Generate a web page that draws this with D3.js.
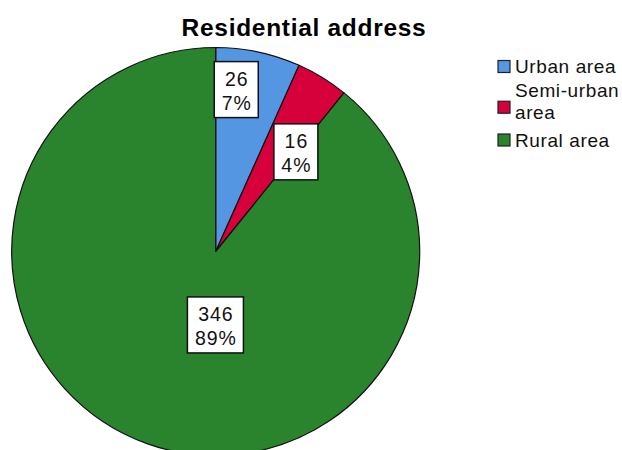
<!DOCTYPE html>
<html>
<head>
<meta charset="utf-8">
<script src="https://cdn.jsdelivr.net/npm/d3@7"></script>
<style>
  html, body { margin: 0; padding: 0; background: #fff; }
  svg { display: block; }
</style>
</head>
<body>
<svg id="chart" width="622" height="450"></svg>
<script>
const categories = ["Urban area", "Semi-urban area", "Rural area"];
const legendLines = [["Urban area"], ["Semi-urban", "area"], ["Rural area"]];
const counts = [26, 16, 346];
const percentLabels = ["7%", "4%", "89%"];
const colors = ["#5596E3", "#D6003A", "#2A832D"];
const title = "Residential address";

// layout (not data)
const W = 622, H = 450;
const cx = 215.7, cy = 251.5, R = 204;
const labelLayout = [
  { angleFrac: 0.30, radiusFrac: 0.80 },
  { angleFrac: 0.99, radiusFrac: 0.627 },
  { angleFrac: 0.44, radiusFrac: 0.36 }
];

const svg = d3.select("#chart");
const font = "'Liberation Sans', Arial, sans-serif";

svg.append("text")
  .attr("x", 304).attr("y", 36)
  .attr("text-anchor", "middle")
  .attr("font-family", font)
  .attr("font-weight", "bold")
  .attr("font-size", 24.5)
  .attr("letter-spacing", 0.7)
  .attr("fill", "#000")
  .text(title);

const pie = d3.pie().sort(null).value(d => d)(counts);
const arc = d3.arc().innerRadius(0).outerRadius(R);

const g = svg.append("g").attr("transform", `translate(${cx},${cy})`);
g.selectAll("path.slice")
  .data(pie)
  .join("path")
  .attr("class", "slice")
  .attr("d", arc)
  .attr("fill", (d, i) => colors[i])
  .attr("stroke", "#111")
  .attr("stroke-width", 1.2)
  .attr("stroke-linejoin", "round");

// labels
const lblFont = 19.5, lineH = 24, padX = 7.5, boxH = 56;
pie.forEach((d, i) => {
  const L = labelLayout[i];
  const a = d.startAngle + L.angleFrac * (d.endAngle - d.startAngle);
  const [px, py] = d3.pointRadial(a, R * L.radiusFrac);
  const lg = g.append("g").attr("transform", `translate(${px},${py})`);
  const rect = lg.append("rect");
  const t = lg.append("text")
    .attr("text-anchor", "middle")
    .attr("font-family", font)
    .attr("font-size", lblFont)
    .attr("letter-spacing", 1)
    .attr("fill", "#111");
  t.append("tspan").attr("x", 0.5).attr("y", -4).text(counts[i]);
  t.append("tspan").attr("x", 0.5).attr("y", -4 + lineH).text(percentLabels[i]);
  const bb = t.node().getBBox();
  const bw = Math.round(bb.width - 1 + padX * 2);
  rect.attr("x", -bw / 2).attr("y", -boxH / 2)
    .attr("width", bw).attr("height", boxH)
    .attr("fill", "#fff")
    .attr("stroke", "#111")
    .attr("stroke-width", 1.5);
});

// legend (clipped at right like the original)
svg.append("clipPath").attr("id", "legclip")
  .append("rect").attr("x", 480).attr("y", 40).attr("width", 138).attr("height", 130);
const legX = 498, sq = 12;
const legBaselines = [73, 97, 146.5];
const leg = svg.append("g").attr("clip-path", "url(#legclip)");
categories.forEach((c, i) => {
  const lines = legendLines[i];
  const base = legBaselines[i];
  const textTop = base - 13;
  const textBottom = base + (lines.length - 1) * 21.5;
  const sqY = lines.length > 1 ? (textTop + textBottom) / 2 - sq / 2 + 6 : base - sq - 0.5;
  leg.append("rect")
    .attr("x", legX).attr("y", sqY)
    .attr("width", sq).attr("height", sq)
    .attr("fill", colors[i])
    .attr("stroke", "#222")
    .attr("stroke-width", 1.2);
  const t = leg.append("text")
    .attr("font-family", font)
    .attr("font-size", 19)
    .attr("letter-spacing", 0.6)
    .attr("fill", "#111");
  lines.forEach((ln, j) => {
    t.append("tspan").attr("x", legX + 17).attr("y", base + j * 21.5).text(ln);
  });
});
</script>
</body>
</html>
